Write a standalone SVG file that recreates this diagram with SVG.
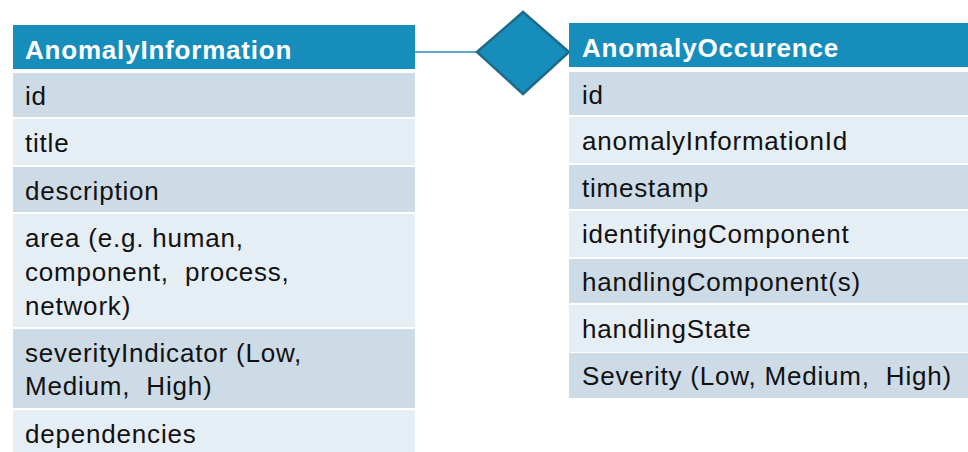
<svg xmlns="http://www.w3.org/2000/svg" width="968" height="452" viewBox="0 0 968 452">
<style>
.hdr{fill:#178DBB}
.dk{fill:#CDDBE7}
.lt{fill:#E6EEF5}
.ht{font-family:"Liberation Sans",Arial,sans-serif;font-weight:bold;font-size:26px;fill:#FFFFFF;letter-spacing:0.8px}
.bt{font-family:"Liberation Sans",Arial,sans-serif;font-size:26px;fill:#111111;letter-spacing:0.8px;white-space:pre}
.conn{stroke:#2A8AB0;stroke-width:1.5;fill:none}
.rel{fill:#178DBB;stroke:#1D6B89;stroke-width:2.5;stroke-linejoin:miter}
</style>
<rect width="968" height="452" fill="#FFFFFF"/>
<g id="connectors">
<line class="conn" x1="415" y1="52" x2="477" y2="52"/>
</g>
<g id="AnomalyInformation">
<rect class="hdr" x="13" y="25" width="402" height="44"/>
<text class="ht" x="25" y="59">AnomalyInformation</text>
<rect class="dk" x="13" y="73" width="402" height="44"/>
<text class="bt" x="25" y="105">id</text>
<rect class="lt" x="13" y="119" width="402" height="46"/>
<text class="bt" x="25" y="152">title</text>
<rect class="dk" x="13" y="167" width="402" height="45"/>
<text class="bt" x="25" y="200">description</text>
<rect class="lt" x="13" y="214" width="402" height="113"/>
<text class="bt" x="25" y="247">area (e.g. human,</text>
<text class="bt" x="25" y="281">component,  process,</text>
<text class="bt" x="25" y="315">network)</text>
<rect class="dk" x="13" y="329" width="402" height="79"/>
<text class="bt" x="25" y="362">severityIndicator (Low,</text>
<text class="bt" x="25" y="395">Medium,  High)</text>
<rect class="lt" x="13" y="410" width="402" height="42"/>
<text class="bt" x="25" y="443">dependencies</text>
</g>
<g id="relationship">
<polygon class="rel" points="477,52 523,12 569,52 523,94"/>
</g>
<g id="AnomalyOccurence">
<rect class="hdr" x="569" y="23" width="399" height="44"/>
<text class="ht" x="582" y="57">AnomalyOccurence</text>
<rect class="dk" x="569" y="72" width="399" height="43"/>
<text class="bt" x="582" y="104">id</text>
<rect class="lt" x="569" y="117" width="399" height="46"/>
<text class="bt" x="582" y="150">anomalyInformationId</text>
<rect class="dk" x="569" y="165" width="399" height="44"/>
<text class="bt" x="582" y="197">timestamp</text>
<rect class="lt" x="569" y="211" width="399" height="46"/>
<text class="bt" x="582" y="243">identifyingComponent</text>
<rect class="dk" x="569" y="259" width="399" height="44"/>
<text class="bt" x="582" y="291">handlingComponent(s)</text>
<rect class="lt" x="569" y="305" width="399" height="47"/>
<text class="bt" x="582" y="338">handlingState</text>
<rect class="dk" x="569" y="353" width="399" height="45"/>
<text class="bt" x="582" y="385">Severity (Low, Medium,  High)</text>
</g>
</svg>
